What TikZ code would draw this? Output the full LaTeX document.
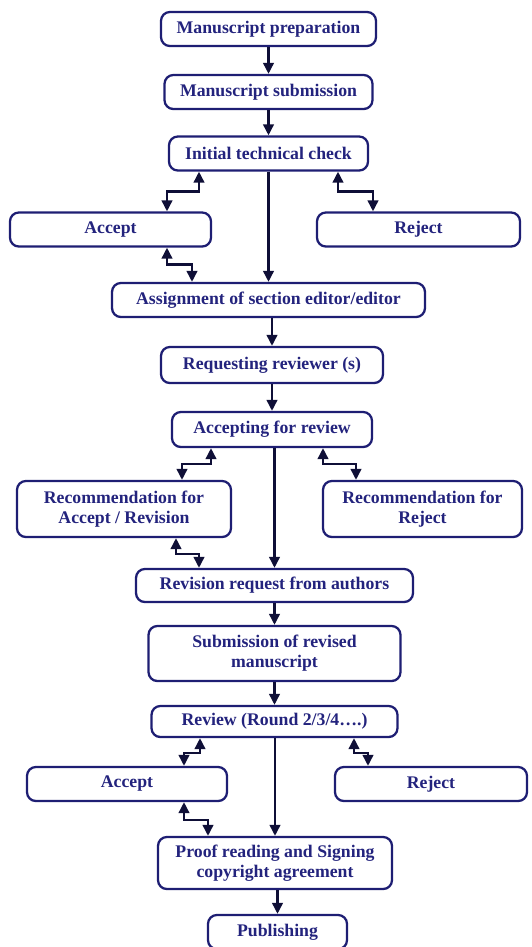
\documentclass[tikz,border=0pt]{standalone}
\usepackage{fontspec}
\setmainfont{Liberation Serif}
\usetikzlibrary{arrows.meta,calc}
\definecolor{boxblue}{RGB}{30,30,115}
\definecolor{txtblue}{RGB}{35,35,125}
\definecolor{arrblue}{RGB}{15,15,55}
\begin{document}
\begin{tikzpicture}[x=0.02cm,y=-0.02cm]
    % Definizione stili
    \tikzstyle{stage}=[draw=boxblue, line width=1.3pt, rounded corners=5pt, text=txtblue, align=center, inner sep=1pt, minimum height=0.68cm, font=\fontsize{10.1}{11.5}\selectfont\bfseries]
    \tikzstyle{flow}=[-{Triangle[length=2.2mm,width=2.1mm]}, line width=1.4pt, arrblue]
    \tikzstyle{twoway}=[{Triangle[length=2.2mm,width=2.1mm]}-{Triangle[length=2.2mm,width=2.1mm]}, line width=1.4pt, arrblue]

    \useasboundingbox (0,0) rectangle (531,947);

    % Sottomissione e controllo iniziale
    \node[stage, minimum width=4.3cm] (prep) at (268.5,29) {Manuscript preparation};
    \node[stage, minimum width=4.16cm] (subm) at (268.5,92) {Manuscript submission};
    \node[stage, minimum width=3.98cm] (check) at (268.5,153.5) {Initial technical check};
    \node[stage, minimum width=4.02cm] (acc1) at (110.5,229.5) {Accept};
    \node[stage, minimum width=4.06cm] (rej1) at (418.5,229.5) {Reject};
    \node[stage, minimum width=6.26cm] (assign) at (268.5,300) {Assignment of section editor/editor};

    % Revisori
    \node[stage, minimum width=4.44cm, minimum height=0.72cm] (request) at (272,365) {Requesting reviewer (s)};
    \node[stage, minimum width=4.0cm, minimum height=0.7cm] (acceptrev) at (272,429.5) {Accepting for review};
    \node[stage, minimum width=4.28cm, minimum height=1.12cm] (recacc) at (124,509) {Recommendation for\\Accept / Revision};
    \node[stage, minimum width=3.98cm, minimum height=1.12cm] (recrej) at (422.5,509) {Recommendation for\\Reject};

    % Revisione
    \node[stage, minimum width=5.54cm, minimum height=0.66cm] (revreq) at (274.5,585.5) {Revision request from authors};
    \node[stage, minimum width=5.04cm, minimum height=1.1cm] (revsub) at (274.5,653.5) {Submission of revised\\manuscript};
    \node[stage, minimum width=4.92cm, minimum height=0.62cm] (round) at (274.5,721.5) {Review (Round 2/3/4\ldots.)};
    \node[stage, minimum width=4.0cm] (acc2) at (127,784) {Accept};
    \node[stage, minimum width=3.84cm] (rej2) at (431,784) {Reject};

    % Pubblicazione
    \node[stage, minimum width=4.68cm, minimum height=1.04cm] (proof) at (275,863) {Proof reading and Signing\\copyright agreement};
    \node[stage, minimum width=2.78cm] (publish) at (277.5,932) {Publishing};

    % Frecce principali
    \draw[flow] (prep) -- (subm);
    \draw[flow] (subm) -- (check);
    \draw[flow] (check) -- (assign);
    \draw[flow] (assign.south -| request) -- (request);
    \draw[flow] (request) -- (acceptrev);
    \draw[flow] (acceptrev.south -| revreq) -- (revreq);
    \draw[flow] (revreq) -- (revsub);
    \draw[flow] (revsub) -- (round);
    \draw[flow] (round.south -| proof) -- (proof);
    \draw[flow] (proof.south -| publish) -- (publish);

    % Frecce a gomito
    \draw[twoway] ($(check.south)+(-69.5,0)$) -- ++(0,20) -| ($(acc1.north)+(56.5,0)$);
    \draw[twoway] ($(check.south)+(69.5,0)$) -- ++(0,20) -| ($(rej1.north)+(-45.5,0)$);
    \draw[twoway] ($(acc1.south)+(56.5,0)$) -- ++(0,17) -| ($(assign.north)+(-76.5,0)$);
    \draw[twoway] ($(acceptrev.south)+(-61,0)$) -- ++(0,16) -| ($(recacc.north)+(58,0)$);
    \draw[twoway] ($(acceptrev.south)+(51,0)$) -- ++(0,16) -| ($(recrej.north)+(-66.5,0)$);
    \draw[twoway] ($(recacc.south)+(52,0)$) -- ++(0,16) -| ($(revreq.north)+(-75.5,0)$);
    \draw[twoway] ($(round.south)+(-74.5,0)$) -- ++(0,15) -| ($(acc2.north)+(57,0)$);
    \draw[twoway] ($(round.south)+(79.5,0)$) -- ++(0,15) -| ($(rej2.north)+(-63,0)$);
    \draw[twoway] ($(acc2.south)+(57,0)$) -- ++(0,18) -| ($(proof.north)+(-67,0)$);
\end{tikzpicture}
\end{document}
